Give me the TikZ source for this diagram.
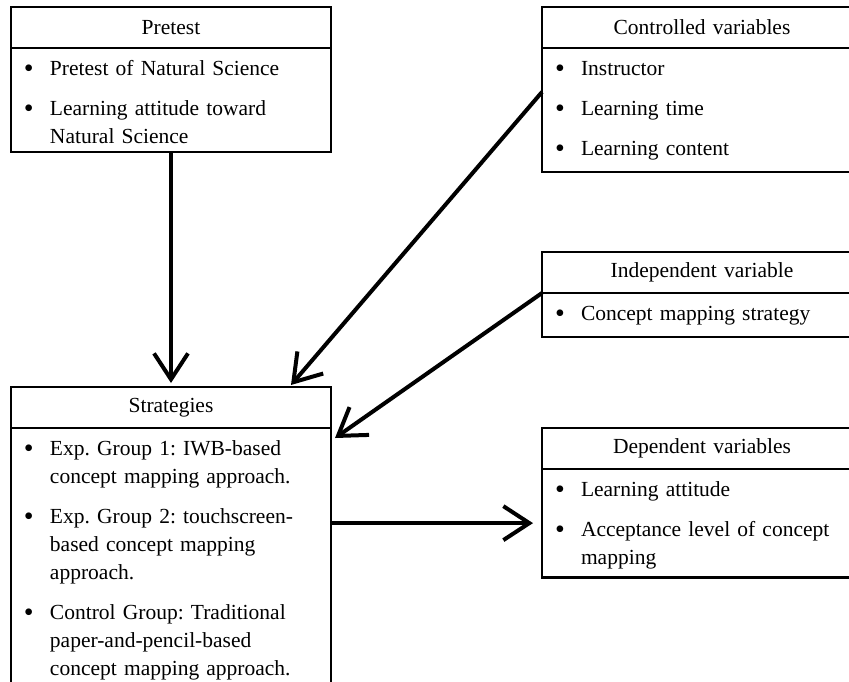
\documentclass[tikz,border=0pt]{standalone}
\usepackage{fontspec}
\usepackage{graphicx}
\setmainfont{Liberation Serif}
\usetikzlibrary{positioning,calc,arrows.meta}

\newcommand{\boxfont}{\fontsize{21.5}{28}\selectfont\frenchspacing\hyphenpenalty=10000\relax}
\newcommand{\bitem}[1]{\setlength{\parskip}{12pt}\hangindent=31pt\hangafter=1\strut\makebox[31pt][l]{\hspace{5pt}\raisebox{-1.5pt}{\scalebox{1.3}{\textbullet}}}#1\par}

\begin{document}
\begin{tikzpicture}[x=1pt, y=-1pt,
				headbox/.style={rectangle, draw=black, line width=2.5pt, outer sep=0pt, text width=320pt, inner xsep=0pt, minimum height=41pt, align=center, font=\boxfont},
				listbox/.style={rectangle, draw=black, line width=2.5pt, outer sep=0pt, text width=304pt, inner xsep=8pt, inner ysep=8pt, align=left, font=\boxfont}
			]
			\useasboundingbox (0,0) rectangle (849,681);
			\clip (0,0) rectangle (849,681);
			\node[headbox, anchor=north west] (pretest) at (11,7) {Pretest};
			\node[listbox] (pretestlist) [below=0pt of pretest] {\bitem{Pretest of Natural Science}\bitem{Learning attitude toward Natural Science}};
			\node[headbox, anchor=north west] (strategies) at (11,387) {Strategies};
			\node[listbox] (strategieslist) [below=0pt of strategies] {\bitem{Exp. Group 1: IWB-based concept mapping approach.}\bitem{Exp. Group 2: touchscreen-based concept mapping approach.}\bitem{Control Group: Traditional paper-and-pencil-based concept mapping approach.}};
			\node[headbox, anchor=north west] (controlled) at (542,7) {Controlled variables};
			\node[listbox] (controlledlist) [below=0pt of controlled] {\bitem{Instructor}\bitem{Learning time}\bitem{Learning content}};
			\node[headbox, anchor=north west] (independent) at (542,252) {Independent variable};
			\node[listbox] (independentlist) [below=0pt of independent] {\bitem{Concept mapping strategy}};
			\node[headbox, anchor=north west] (dependent) at (542,428) {Dependent variables};
			\node[listbox] (dependentlist) [below=0pt of dependent] {\bitem{Learning attitude}\bitem{Acceptance level of concept mapping}};
			\begin{scope}[line width=4pt, -{Straight Barb[length=26pt, width=34pt]}]
			\draw[shorten >=4pt] (pretestlist.south) -- (strategies.north);
			\draw ($(controlledlist.west)+(0,-18)$) -- ($(strategies.north east)+(-40,-2)$);
			\draw (independent.south west) -- ($(strategieslist.north east)+(4,10)$);
			\draw[shorten >=9pt] (strategieslist.east |- dependentlist.west) -- (dependentlist.west);
			\end{scope}
			\end{tikzpicture}
\end{document}
